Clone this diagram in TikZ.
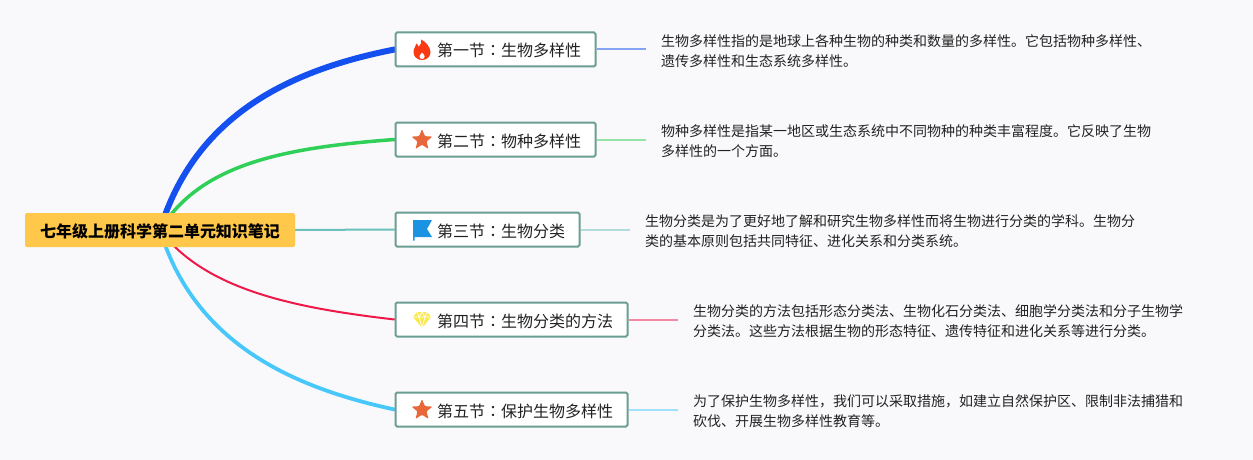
\documentclass[tikz,border=0pt]{standalone}
\usepackage{fontspec}
\usetikzlibrary{shapes.geometric}
\pgfdeclarelayer{links}
\pgfsetlayers{links,main}
\setmainfont{Noto Sans CJK SC}
\newfontfamily\cjktc{Noto Sans CJK TC}
\newcommand{\colonmark}{{\cjktc ：}}
\newcommand{\seclabel}[1]{\hspace*{27pt}#1}
\definecolor{bgc}{HTML}{F9F9FB}
\definecolor{boxline}{HTML}{6B9E92}
\definecolor{inkc}{HTML}{222222}
\definecolor{rootc}{HTML}{FFC84A}
\definecolor{cblue}{HTML}{1450F0}
\definecolor{cgreen}{HTML}{30D058}
\definecolor{cteal}{HTML}{6CC0BC}
\definecolor{cred}{HTML}{F01848}
\definecolor{ccyan}{HTML}{48C8FA}
\definecolor{flamec}{HTML}{FA3A14}
\definecolor{starc}{HTML}{E8683A}
\definecolor{flagc}{HTML}{1A94E2}
\definecolor{gemc}{HTML}{FAE850}
\tikzset{
  rootbox/.style={fill=rootc,rounded corners=2pt,minimum width=270pt,minimum height=34pt,inner sep=0pt,text height=14pt,text depth=0pt,text=black,font=\fontsize{16}{20}\selectfont\bfseries},
  secbox/.style={draw=boxline,line width=2pt,fill=white,rounded corners=1.5pt,minimum height=34pt,inner sep=0pt,text height=15pt,text depth=0pt,text=inkc,font=\fontsize{16}{20}\selectfont},
  secnote/.style={anchor=west,align=left,inner xsep=15pt,inner ysep=0pt,text=inkc,font=\fontsize{14}{20}\selectfont},
  stub/.style={line width=2pt,opacity=.5},
  branch/.style={line cap=round},
  staricon/.style={star,star points=5,star point ratio=2.3,fill=starc,rounded corners=1pt,minimum size=22pt,inner sep=0pt}
}
\begin{document}
\begin{tikzpicture}[x=1pt,y=-1pt]
\useasboundingbox (0,0) rectangle (1253,460);
\begin{pgfonlayer}{links}
\fill[bgc] (0,0) rectangle (1253,460);
\end{pgfonlayer}

\node[rootbox] (root) at (160,230) {七年级上册科学第二单元知识笔记};
\node[secbox,minimum width=200pt] (b1) at (495.5,49.5) {\seclabel{第一节\colonmark 生物多样性}};
\node[secbox,minimum width=200pt] (b2) at (495.5,139.5) {\seclabel{第二节\colonmark 物种多样性}};
\node[secbox,minimum width=184pt] (b3) at (487.5,229.5) {\seclabel{第三节\colonmark 生物分类}};
\node[secbox,minimum width=232pt] (b4) at (511.5,319.5) {\seclabel{第四节\colonmark 生物分类的方法}};
\node[secbox,minimum width=232pt] (b5) at (511.5,409.5) {\seclabel{第五节\colonmark 保护生物多样性}};

\node[secnote] (d1) at (646,51) {生物多样性指的是地球上各种生物的种类和数量的多样性。它包括物种多样性、\\遗传多样性和生态系统多样性。};
\node[secnote] (d2) at (646,141) {物种多样性是指某一地区或生态系统中不同物种的种类丰富程度。它反映了生物\\多样性的一个方面。};
\node[secnote] (d3) at (630,231) {生物分类是为了更好地了解和研究生物多样性而将生物进行分类的学科。生物分\\类的基本原则包括共同特征、进化关系和分类系统。};
\node[secnote] (d4) at (678,321) {生物分类的方法包括形态分类法、生物化石分类法、细胞学分类法和分子生物学\\分类法。这些方法根据生物的形态特征、遗传特征和进化关系等进行分类。};
\node[secnote] (d5) at (678,411) {为了保护生物多样性，我们可以采取措施，如建立自然保护区、限制非法捕猎和\\砍伐、开展生物多样性教育等。};

\begin{pgfonlayer}{links}
\draw[branch,cblue,line width=6pt] (root.center) .. controls (195,115) and (290,70) .. (b1.west);
\draw[branch,cgreen,line width=3.5pt] (root.center) .. controls (200,165) and (280,148) .. (b2.west);
\draw[cteal,line width=2pt] (root.east) -- (b3.west);
\draw[branch,cred,line width=2pt] (root.center) .. controls (205,290) and (295,308) .. (b4.west);
\draw[branch,ccyan,line width=3.8pt] (root.center) .. controls (195,345) and (295,388) .. (b5.west);
\draw[stub,cblue] (b1.east) -- (b1.east -| d1.west);
\draw[stub,cgreen] (b2.east) -- (b2.east -| d2.west);
\draw[stub,cteal] (b3.east) -- (b3.east -| d3.west);
\draw[stub,cred] (b4.east) -- (b4.east -| d4.west);
\draw[stub,ccyan] (b5.east) -- (b5.east -| d5.west);
\end{pgfonlayer}

% flame
\fill[flamec,shift={(422,50)}] (0,10) .. controls (-5,10) and (-8.5,6.5) .. (-8.5,2)
  .. controls (-8.5,-2) and (-6,-3.5) .. (-5.5,-6.5) .. controls (-4,-5.5) and (-3.5,-4) .. (-3.5,-3)
  .. controls (-1,-5) and (0,-8) .. (-1,-10.5) .. controls (3,-9) and (8.5,-3) .. (8.5,2)
  .. controls (8.5,6.5) and (5,10) .. (0,10) -- cycle;
\fill[white,shift={(422,50)}] (0,9) .. controls (-2,9) and (-2.8,7.5) .. (-2.5,6) .. controls (-2,4.5) and (-1,4) .. (0,2.5)
  .. controls (1.5,4) and (2.8,5) .. (2.6,6.5) .. controls (2.4,8) and (1.5,9) .. (0,9) -- cycle;
% stars
\node[staricon] (s2) at (422,140) {};
\node[staricon] (s5) at (422,410) {};
% flag
\fill[flagc] (413,220) -- (432,220) -- (427,229) -- (432,237) -- (414.5,237) -- (414.5,240.5) -- (413,240.5) -- cycle;
% gem
\begin{scope}[shift={(422,320)}]
\fill[gemc,line join=round] (-5,-8) -- (5,-8) -- (9,-3) -- (0,8) -- (-9,-3) -- cycle;
\draw[white,line width=.7pt,line join=round]
  (-9,-3) -- (9,-3) (-5,-8) -- (-3,-3) -- (0,8) -- (3,-3) -- (5,-8) (-3,-3) -- (0,-8) -- (3,-3);
\end{scope}
\end{tikzpicture}
\end{document}
